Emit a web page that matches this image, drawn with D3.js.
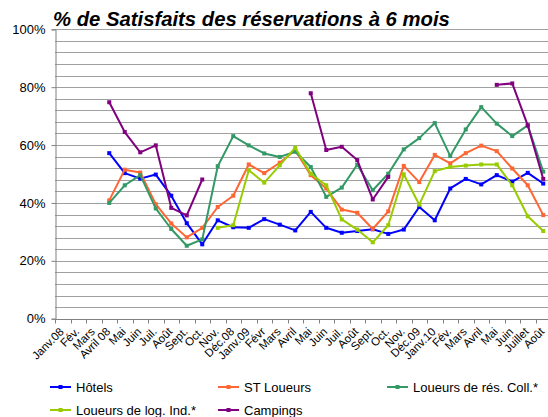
<!DOCTYPE html>
<html><head><meta charset="utf-8">
<script src="https://cdn.jsdelivr.net/npm/d3@7"></script>
<style>body{margin:0;background:#fff}svg{display:block}</style>
</head><body><svg id="c" width="548" height="417"></svg>
<script>
const categories = ["Janv.08","Fév.","Mars","Avril 08","Mai","Juin","Juil.","Août","Sept.","Oct.","Nov.","Déc.08","Janv.09","Févr","Mars","Avril","Mai","Juin","Juil.","Août","Sept.","Oct.","Nov.","Déc.09","Janv.10","Fév.","Mars","Avril","Mai","Juin","Juillet","Août"];
const hotels = [null,null,null,57.2,50.3,48.4,49.8,42.5,33.0,25.7,34.0,31.6,31.4,34.4,32.5,30.5,36.9,31.4,29.7,30.3,30.9,29.3,30.8,38.6,34.0,45.0,48.3,46.4,49.6,47.4,50.4,46.7];
const stLoueurs = [null,null,null,40.9,51.5,50.5,39.6,32.9,28.1,31.4,38.6,42.5,53.3,50.3,53.9,58.2,49.6,45.0,37.7,36.6,31.0,37.1,52.8,47.2,56.6,53.7,57.2,59.8,57.9,51.9,46.1,35.8];
const loueursResColl = [null,null,null,40.0,46.1,49.6,38.1,31.0,25.2,27.4,52.7,63.1,59.9,57.1,55.9,57.7,52.4,42.1,45.3,53.2,44.4,50.1,58.5,62.4,67.6,56.2,65.4,73.1,67.4,63.1,66.8,50.8];
const loueursLogInd = [null,null,null,null,null,null,null,null,null,null,31.4,32.3,51.3,47.0,53.0,59.1,50.1,46.1,34.3,30.8,26.4,32.3,49.9,39.4,51.0,52.4,52.9,53.3,53.3,46.1,35.4,30.3];
const campings = [null,null,null,74.8,64.5,57.5,59.9,38.3,35.7,48.1,null,null,null,null,null,null,77.9,58.3,59.4,54.8,41.2,49.0,null,null,null,null,null,null,80.8,81.3,66.8,48.3];
const seriesNames = ["Hôtels","ST Loueurs","Loueurs de rés. Coll.*","Loueurs de log. Ind.*","Campings"];
const seriesColors = ["#0000ff","#ff6633","#339966","#99cc00","#800080"];
const yTicks = [0,20,40,60,80,100];
const title = "% de Satisfaits des réservations à 6 mois";

const series = [hotels, stLoueurs, loueursResColl, loueursLogInd, campings];
const svg = d3.select("#c");
const font = "Arial, 'Liberation Sans', sans-serif";
const x = d3.scaleBand().domain(d3.range(categories.length)).range([55, 551]);
const y = d3.scaleLinear().domain([0, 100]).range([318.7, 29.3]);

// gridlines every 4%
svg.append("g").selectAll("line").data(d3.range(4, 101, 4)).join("line")
  .attr("x1", 55).attr("x2", 551)
  .attr("y1", d => Math.round(y(d)) + 0.5).attr("y2", d => Math.round(y(d)) + 0.5)
  .attr("stroke", "#a0a0a0").attr("stroke-width", 1);

// y axis
const yAxis = svg.append("g").attr("transform", "translate(55.5,0)")
  .call(d3.axisLeft(y).tickValues(yTicks).tickFormat(d => d + "%").tickSize(4).tickPadding(6));
yAxis.select(".domain").attr("stroke", "#808080");
yAxis.selectAll(".tick line").attr("stroke", "#808080");
yAxis.selectAll("text").attr("font-family", font).attr("font-size", 13).attr("fill", "#000");

// x axis
const xAxisY = Math.round(y(0)) + 0.5;
const xg = svg.append("g");
xg.append("line").attr("x1", 55).attr("x2", 551).attr("y1", xAxisY).attr("y2", xAxisY).attr("stroke", "#808080");
xg.selectAll("line.t").data(d3.range(categories.length)).join("line").attr("class", "t")
  .attr("x1", d => Math.round(x(d)) + 0.5).attr("x2", d => Math.round(x(d)) + 0.5)
  .attr("y1", xAxisY).attr("y2", xAxisY + 4).attr("stroke", "#808080");
xg.selectAll("text").data(d3.range(categories.length)).join("text")
  .attr("transform", d => `translate(${x(d) + x.bandwidth() / 2 - 1},${xAxisY + 10}) rotate(-45)`)
  .attr("text-anchor", "end").attr("dy", "0.35em")
  .attr("font-family", font).attr("font-size", 11.5).attr("fill", "#000")
  .text(d => categories[d]);

// lines
const cx = i => x(i) + x.bandwidth() / 2;
const line = d3.line().defined(d => d != null).x((d, i) => cx(i)).y(d => y(d));
series.forEach((s, k) => {
  const g = svg.append("g");
  g.append("path").attr("d", line(s)).attr("fill", "none").attr("stroke", seriesColors[k])
    .attr("stroke-width", 2).attr("stroke-linejoin", "round");
  g.selectAll("rect").data(s.map((v, i) => ({v, i})).filter(d => d.v != null)).join("rect")
    .attr("x", d => cx(d.i) - 2).attr("y", d => y(d.v) - 2).attr("width", 4).attr("height", 4)
    .attr("fill", seriesColors[k]);
});

// title
svg.append("text").attr("x", 53).attr("y", 25.5).attr("font-family", font)
  .attr("font-size", 20.3).attr("font-weight", "bold").attr("font-style", "italic").attr("fill", "#000")
  .text(title);

// legend
const legPos = [[50, 387], [218, 387], [387, 387], [50, 410], [218, 410]];
series.forEach((s, k) => {
  const [lx, ly] = legPos[k];
  const g = svg.append("g");
  g.append("line").attr("x1", lx).attr("x2", lx + 21).attr("y1", ly).attr("y2", ly)
    .attr("stroke", seriesColors[k]).attr("stroke-width", 2);
  g.append("rect").attr("x", lx + 8.5).attr("y", ly - 2).attr("width", 4).attr("height", 4).attr("fill", seriesColors[k]);
  g.append("text").attr("x", lx + 26).attr("y", ly).attr("dy", "0.36em")
    .attr("font-family", font).attr("font-size", 13).attr("fill", "#000").text(seriesNames[k]);
});
</script></body></html>
